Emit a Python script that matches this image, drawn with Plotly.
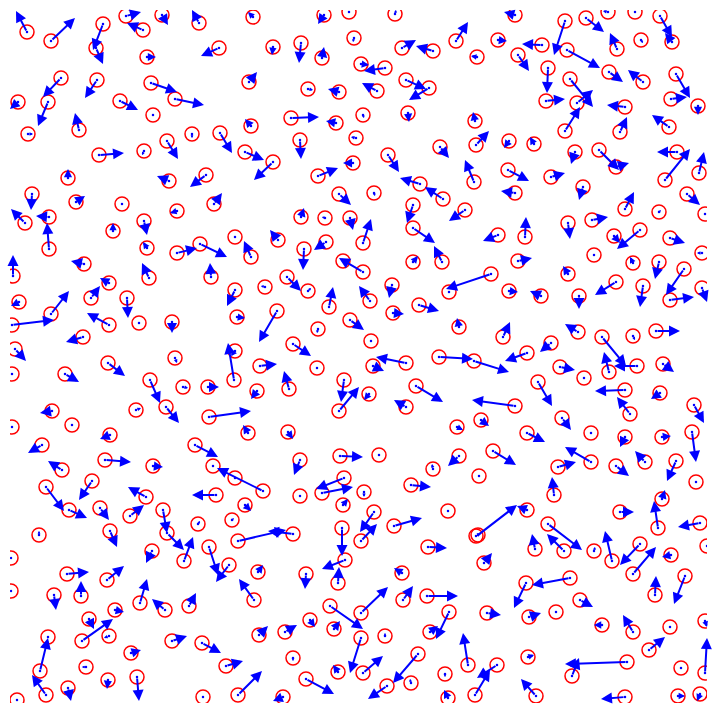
import math
import plotly.graph_objects as go

# particle positions (x, y) and velocity-arrow end points (x_end, y_end)
x = [27,51,103,96,126,162,143,199,147,219,61,97,151,175,18,48,120,153,28,79,192,220,167,99,144,68,169,206,32,76,122,177,214,25,49,144,113,235,49,
     253,324,349,395,273,301,322,354,402,433,456,477,249,361,385,308,339,377,406,429,291,336,363,408,475,251,300,356,440,476,245,273,353,388,318,420,443,474,339,374,413,465,301,325,350,413,278,363,
     515,565,586,608,635,660,672,498,542,617,641,518,567,548,609,643,676,570,546,577,625,671,698,565,620,669,509,534,575,599,616,677,699,508,551,665,515,583,687,625,659,705,592,568,525,498,640,614,670,
     147,177,200,13,84,149,211,109,91,19,51,127,235,12,109,139,172,237,83,15,235,234,175,108,12,65,150,183,208,166,209,52,136,72,12,110,42,195,105,62,153,213,235,
     251,304,326,413,442,343,363,265,287,308,329,370,392,449,491,419,393,459,277,350,318,371,293,260,317,373,406,439,474,289,257,344,339,369,416,406,248,288,457,300,340,379,459,433,
     594,518,633,659,702,568,616,643,684,702,670,509,541,579,503,578,551,527,602,633,656,560,584,609,637,663,538,625,515,660,630,694,481,562,527,591,625,662,692,493,591,645,676,558,616,479,
     92,46,69,100,146,130,216,263,163,167,198,232,238,39,110,209,184,229,152,11,67,107,11,81,54,140,165,189,115,89,82,109,48,40,172,202,131,226,86,108,137,46,68,17,203,238,
     344,322,300,364,343,411,245,374,361,394,448,476,342,293,428,345,338,306,402,258,254,330,361,403,427,449,310,334,285,259,385,430,361,293,338,363,418,306,387,411,445,468,283,448,475,
     554,696,662,527,478,620,548,564,535,594,658,700,612,640,671,707,484,633,570,526,685,655,580,487,529,556,602,633,670,705,649,705,627,572,528,681,497,536,625,678,700]
y = [32,41,24,48,16,15,30,23,57,48,78,80,83,99,102,102,101,115,134,130,134,133,141,155,151,178,181,175,194,202,204,211,204,223,217,221,231,237,249,
     17,15,12,14,47,43,58,38,48,51,41,57,82,64,68,89,92,91,80,88,118,123,115,113,121,126,140,138,147,145,152,162,163,155,176,184,199,182,194,193,205,210,217,218,218,228,240,243,
     15,21,18,12,12,16,42,40,45,49,40,55,50,68,72,82,74,79,101,103,107,99,106,131,132,127,141,144,152,150,167,152,173,170,177,180,193,187,194,209,212,214,220,223,237,235,230,236,238,
     248,253,244,276,264,278,277,283,298,302,314,298,290,325,325,323,322,317,337,349,351,380,358,363,374,374,380,387,387,407,417,411,410,425,427,435,445,445,460,470,466,466,478,
     257,249,242,262,262,261,272,287,277,291,307,301,285,292,274,305,313,327,311,320,329,341,344,366,368,366,363,357,361,389,391,380,411,394,386,407,433,432,427,460,456,455,456,469,
     255,261,263,262,253,274,282,286,269,288,300,291,296,296,337,332,343,353,337,336,331,367,378,372,366,364,382,390,406,393,414,405,420,418,433,433,437,437,432,451,462,462,461,467,466,476,
     481,487,510,508,497,516,495,491,510,533,524,520,541,535,531,547,561,565,551,558,574,580,591,596,595,603,610,606,610,619,641,636,637,671,641,643,653,666,667,680,677,695,688,700,697,695,
     478,493,496,492,505,485,505,512,541,526,511,536,528,534,547,560,583,574,573,572,600,606,613,600,596,612,620,629,632,635,636,632,638,658,672,673,654,679,686,683,674,665,697,698,695,
     495,482,499,510,535,512,524,551,549,551,528,523,561,544,555,546,563,574,578,583,576,595,600,613,617,612,625,632,627,621,650,673,662,676,657,668,665,696,697,696,694]
x_end = [16,75,93,103,141,168,127,192,156,201,43,85,177,204,10,38,138,153,33,75,192,232,178,124,142,68,157,190,31,85,122,170,222,11,36,147,113,235,47,
         248,318,349,396,272,299,324,353,416,416,468,471,257,369,364,313,328,362,426,409,319,326,364,409,473,245,301,351,449,489,264,254,343,399,338,400,425,465,351,375,407,449,304,322,353,435,270,371,
         504,554,604,603,635,672,665,507,522,610,643,529,600,547,623,628,690,593,565,593,607,687,698,580,627,652,504,530,571,619,629,657,704,529,565,690,501,579,700,634,661,707,608,570,526,483,617,620,685,
         143,197,227,13,71,142,210,100,100,11,69,128,227,54,87,139,172,245,66,26,231,228,177,125,12,79,160,188,219,179,251,40,141,72,12,100,28,218,131,48,163,213,235,
         244,303,314,418,434,343,339,261,301,311,333,359,389,449,446,439,404,457,259,364,317,371,311,277,317,384,376,473,509,284,251,341,359,364,443,394,243,293,463,294,363,379,448,432,
         594,532,630,655,697,563,595,640,666,707,694,518,530,579,510,565,540,505,626,635,680,575,586,604,614,674,552,595,472,651,617,704,489,571,545,591,620,671,696,516,565,635,667,576,629,481,
         79,64,87,109,128,144,192,217,167,184,200,234,286,39,117,218,193,216,146,11,89,124,11,81,56,147,152,196,124,94,113,104,48,48,187,221,141,243,82,107,139,32,71,15,205,262,
         316,353,300,364,348,431,251,360,377,422,448,481,342,268,447,322,339,305,394,263,239,363,388,413,458,436,315,340,297,268,385,438,350,293,333,383,393,334,368,410,445,463,273,444,490,
         552,696,665,517,517,634,582,547,532,595,654,678,605,620,662,707,492,656,532,514,674,656,593,501,541,557,594,623,670,707,665,707,565,579,534,681,477,521,601,685,697]
y_end = [11,18,50,64,12,25,23,10,57,56,97,98,92,105,109,126,110,115,134,113,138,153,159,153,155,169,176,187,210,196,204,213,193,209,216,235,223,237,223,
         12,24,12,10,55,63,47,42,40,46,22,56,72,65,71,90,89,83,89,100,117,121,118,122,112,119,159,137,158,131,160,180,163,172,168,178,187,160,205,196,223,221,208,217,230,243,230,219,
         12,55,32,11,12,37,33,41,44,33,43,71,68,93,82,70,98,107,99,90,105,97,115,107,117,115,148,137,164,170,163,152,152,181,173,149,191,200,205,192,210,213,217,239,217,241,249,243,243,
         242,248,257,255,261,263,263,278,286,306,291,318,306,320,313,323,333,318,342,361,356,343,363,376,374,382,403,388,387,423,411,413,408,425,427,439,453,457,462,461,467,466,478,
         241,270,250,256,246,261,258,286,291,288,287,286,298,292,289,311,314,318,342,330,333,341,356,364,368,371,357,359,372,371,399,402,387,400,402,400,425,439,430,475,457,455,466,464,
         255,258,257,279,253,266,295,307,295,302,297,292,291,309,322,324,352,361,366,340,331,370,379,352,366,372,406,391,400,399,397,423,426,430,442,433,447,436,462,465,447,451,481,462,476,477,
         500,511,518,520,487,505,495,468,533,550,521,518,530,531,547,575,537,582,563,558,572,566,591,581,610,579,599,593,612,629,619,638,637,638,636,653,650,661,667,689,701,675,701,701,696,671,
         489,487,496,497,499,487,511,532,524,518,509,533,556,531,548,569,567,589,568,565,579,629,587,586,596,639,627,621,625,626,633,626,673,661,665,656,683,694,699,679,677,633,701,690,670,
         477,482,490,506,505,512,550,534,534,547,501,527,531,565,557,546,553,547,585,608,604,576,607,615,613,614,625,615,627,627,637,638,664,658,655,668,678,679,699,696,701]

fig = go.Figure()

fig.add_trace(go.Scatter(
    x=x, y=y, mode="markers",
    marker=dict(symbol="circle-open", size=14, color="#ff0000", line=dict(width=1.5, color="#ff0000")),
    hoverinfo="skip", showlegend=False))

fig.add_trace(go.Scatter(
    x=x, y=y, mode="markers",
    marker=dict(symbol="circle", size=2.5, color="#0000ff"),
    hoverinfo="skip", showlegend=False))

annotations = []
for x0, y0, x1, y1 in zip(x, y, x_end, y_end):
    length = math.hypot(x1 - x0, y1 - y0)
    if length == 0:
        continue
    head = min(1.1, max(0.35, length / 11.0))
    annotations.append(dict(
        x=x1, y=y1, ax=x0, ay=y0, xref="x", yref="y", axref="x", ayref="y",
        text="", showarrow=True, arrowhead=2, arrowsize=head,
        arrowwidth=2 if length > 6 else 1.5,
        arrowcolor="#0000ff", standoff=0, startstandoff=0))

fig.update_layout(
    width=717, height=713,
    margin=dict(l=10, r=10, t=10, b=10),
    paper_bgcolor="white", plot_bgcolor="white",
    xaxis=dict(range=[10, 707], visible=False, showgrid=False, zeroline=False),
    yaxis=dict(range=[703, 10], visible=False, showgrid=False, zeroline=False),
    annotations=annotations,
)

fig.write_html("out.html")
